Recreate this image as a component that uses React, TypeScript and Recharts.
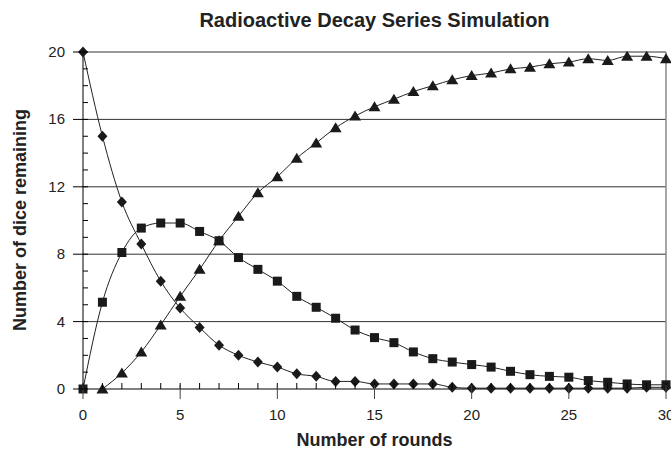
import React from 'react';
import { LineChart, Line, XAxis, YAxis, ReferenceLine } from 'recharts';

const rounds = [0, 1, 2, 3, 4, 5, 6, 7, 8, 9, 10, 11, 12, 13, 14, 15, 16, 17, 18, 19, 20, 21, 22, 23, 24, 25, 26, 27, 28, 29, 30];
const parentDice = [20, 15, 11.1, 8.6, 6.4, 4.8, 3.65, 2.6, 2.0, 1.6, 1.3, 0.9, 0.75, 0.45, 0.45, 0.3, 0.3, 0.3, 0.3, 0.1, 0.05, 0.05, 0.05, 0.05, 0.05, 0.05, 0.05, 0.05, 0.05, 0.1, 0.1];
const daughterDice = [0, 5.15, 8.1, 9.55, 9.85, 9.85, 9.35, 8.8, 7.8, 7.1, 6.4, 5.5, 4.85, 4.2, 3.5, 3.05, 2.75, 2.2, 1.8, 1.6, 1.45, 1.3, 1.05, 0.85, 0.75, 0.7, 0.5, 0.4, 0.3, 0.25, 0.25];
const stableDice = [null, 0, 0.95, 2.2, 3.8, 5.5, 7.1, 8.8, 10.25, 11.65, 12.6, 13.7, 14.6, 15.5, 16.2, 16.75, 17.2, 17.65, 18.0, 18.35, 18.6, 18.75, 19.0, 19.1, 19.3, 19.4, 19.6, 19.5, 19.75, 19.75, 19.6];

const yTicks = [0, 1, 2, 3, 4, 5, 6, 7, 8, 9, 10, 11, 12, 13, 14, 15, 16, 17, 18, 19, 20];
const yMajor = [0, 4, 8, 12, 16, 20];
const xMajor = [0, 5, 10, 15, 20, 25, 30];

const data = rounds.map((r, i) => ({
  round: r,
  parent: parentDice[i],
  daughter: daughterDice[i],
  stable: stableDice[i],
}));

const FONT = 'Arial, "Liberation Sans", Helvetica, sans-serif';
const INK = '#1a1a1a';

const YTick = (props: any) => {
  const { x, y, payload } = props;
  const major = yMajor.includes(payload.value);
  return (
    <g>
      <line x1={x} x2={x + 5} y1={y} y2={y} stroke="#000" />
      {major && <line x1={x - 10} x2={x} y1={y} y2={y} stroke="#000" />}
      {major && (
        <text x={x - 18} y={y + 5} textAnchor="end" fontSize={15} fontFamily={FONT} fill="#222">
          {payload.value}
        </text>
      )}
    </g>
  );
};

const XTick = (props: any) => {
  const { x, y, payload } = props;
  const major = xMajor.includes(payload.value);
  return (
    <g>
      <line x1={x} x2={x} y1={y - 6} y2={y} stroke="#000" />
      {major && <line x1={x} x2={x} y1={y - 4} y2={y + 10} stroke="#444" />}
      {major && (
        <text x={x} y={y + 31} textAnchor="middle" fontSize={15} fontFamily={FONT} fill="#222">
          {payload.value}
        </text>
      )}
    </g>
  );
};

const Diamond = (props: any) => {
  const { cx, cy } = props;
  if (cx == null || cy == null) return null;
  return <polygon points={`${cx},${cy - 5.5} ${cx + 5},${cy} ${cx},${cy + 5.5} ${cx - 5},${cy}`} fill={INK} />;
};

const Square = (props: any) => {
  const { cx, cy } = props;
  if (cx == null || cy == null) return null;
  return <rect x={cx - 4.5} y={cy - 4.5} width={9} height={9} fill={INK} />;
};

const Triangle = (props: any) => {
  const { cx, cy } = props;
  if (cx == null || cy == null) return null;
  return <polygon points={`${cx},${cy - 5.5} ${cx + 6},${cy + 4.5} ${cx - 6},${cy + 4.5}`} fill={INK} />;
};

export default function App() {
  return (
    <div style={{ position: 'absolute', left: 0, top: 0, width: 671, height: 451, background: '#fff', fontFamily: FONT }}>
      <div style={{ position: 'absolute', left: 83, width: 583, top: 9, textAlign: 'center', fontSize: 20, fontWeight: 'bold', color: '#222' }}>
        Radioactive Decay Series Simulation
      </div>
      <div
        style={{
          position: 'absolute',
          left: 20,
          top: 220,
          transform: 'translate(-50%, -50%) rotate(-90deg)',
          whiteSpace: 'nowrap',
          fontSize: 18,
          fontWeight: 'bold',
          color: '#222',
        }}
      >
        Number of dice remaining
      </div>
      <div style={{ position: 'absolute', left: 83, width: 583, top: 430, textAlign: 'center', fontSize: 18, fontWeight: 'bold', color: '#222' }}>
        Number of rounds
      </div>
      <LineChart width={671} height={451} data={data} margin={{ top: 52, right: 5, left: 8, bottom: 22 }}>
        {yMajor.slice(1).map((v) => (
          <ReferenceLine key={v} y={v} stroke="#333" strokeWidth={1} />
        ))}
        <ReferenceLine x={30} stroke="#888" strokeWidth={1.5} />
        <XAxis
          type="number"
          dataKey="round"
          domain={[0, 30]}
          ticks={rounds}
          interval={0}
          tickSize={0}
          tickMargin={0}
          tickLine={false}
          axisLine={{ stroke: '#000' }}
          tick={(p: any) => <XTick {...p} />}
          height={40}
        />
        <YAxis
          type="number"
          domain={[0, 20]}
          ticks={yTicks}
          interval={0}
          tickSize={0}
          tickMargin={0}
          tickLine={false}
          axisLine={{ stroke: '#000' }}
          tick={(p: any) => <YTick {...p} />}
          width={75}
        />
        <Line type="monotone" dataKey="parent" stroke="#222" strokeWidth={1} dot={(p: any) => <Diamond key={p.index} {...p} />} isAnimationActive={false} />
        <Line type="monotone" dataKey="daughter" stroke="#222" strokeWidth={1} dot={(p: any) => <Square key={p.index} {...p} />} isAnimationActive={false} />
        <Line type="monotone" dataKey="stable" stroke="#222" strokeWidth={1} dot={(p: any) => <Triangle key={p.index} {...p} />} isAnimationActive={false} />
      </LineChart>
    </div>
  );
}
